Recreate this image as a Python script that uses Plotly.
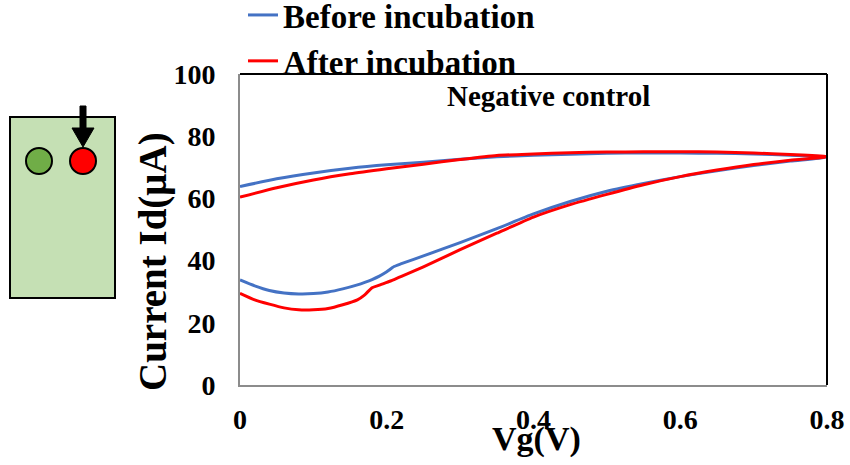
import plotly.graph_objects as go

# ---------------- data ----------------
vg_forward = [0, 0.02, 0.04, 0.06, 0.08, 0.10, 0.12, 0.14, 0.16, 0.17, 0.18, 0.19, 0.20,
              0.21, 0.22, 0.25, 0.30, 0.35, 0.40, 0.45, 0.50, 0.55, 0.60, 0.65, 0.70, 0.75, 0.80]
vg_backward = [0.80, 0.75, 0.70, 0.65, 0.60, 0.55, 0.50, 0.45, 0.40, 0.35, 0.30, 0.25,
               0.20, 0.15, 0.10, 0.05, 0]

before_forward = [33.8, 31.9, 30.4, 29.6, 29.3, 29.4, 29.9, 30.9, 32.2, 33.0, 33.9, 35.0, 36.4,
                  38.1, 39.0, 41.5, 45.8, 50.3, 55.0, 59.0, 62.3, 64.8, 67.0, 68.9, 70.6, 72.0, 73.3]
before_backward = [73.3, 73.9, 74.3, 74.5, 74.6, 74.6, 74.5, 74.2, 73.9, 73.4, 72.6, 71.6,
                   70.8, 69.7, 68.2, 66.3, 63.8]

after_forward = [29.5, 27.4, 26.0, 24.8, 24.2, 24.2, 24.6, 25.8, 27.4, 29.0, 31.3, 32.1, 33.0,
                 33.9, 34.9, 38.0, 43.5, 48.8, 54.0, 58.0, 61.3, 64.4, 67.0, 69.1, 70.9, 72.3, 73.4]
after_backward = [73.4, 74.1, 74.6, 74.9, 75.0, 75.0, 74.9, 74.7, 74.3, 73.8, 72.5, 71.0,
                  69.5, 67.9, 65.9, 63.4, 60.4]

series_names = ["Before incubation", "After incubation"]
series_colors = ["#4472C4", "#FF0000"]
x_ticks = [0, 0.2, 0.4, 0.6, 0.8]
x_tick_text = ["0", "0.2", "0.4", "0.6", "0.8"]
y_ticks = [0, 20, 40, 60, 80, 100]
panel_label = "Negative control"
x_title = "Vg(V)"
y_title = "Current Id(μA)"

# ---------------- layout geometry ----------------
W, H = 850, 465
L, R, T, B = 240, 23, 74, 80
PW, PH = W - L - R, H - T - B


def px(x):  # pixel x -> paper
    return (x - L) / PW


def py(y):  # pixel y -> paper
    return (H - B - y) / PH


FONT = "Liberation Serif, Times New Roman, serif"

fig = go.Figure()
loops = [(before_forward, before_backward), (after_forward, after_backward)]
for (fw, bw), name, color in zip(loops, series_names, series_colors):
    fig.add_trace(go.Scatter(
        x=vg_forward + vg_backward[1:],
        y=fw + bw[1:],
        mode="lines",
        name=name,
        line=dict(color=color, width=3, shape="spline", smoothing=0.6),
    ))

axis_font = dict(family=FONT, size=28, color="black", weight="bold")

fig.update_xaxes(
    range=[0, 0.8], tickvals=x_ticks, ticktext=x_tick_text,
    showgrid=False, zeroline=False, showline=True, linecolor="#8c8c8c", linewidth=2,
    ticks="", tickfont=axis_font, ticklabelstandoff=8,
)
fig.update_yaxes(
    range=[0, 100], tickvals=y_ticks,
    showgrid=False, zeroline=False, showline=True, linecolor="#8c8c8c", linewidth=2,
    ticks="", tickfont=axis_font, ticklabelstandoff=17,
)

shapes = [
    # top and right black frame
    dict(type="line", xref="paper", yref="paper", x0=0, x1=1, y0=1, y1=1,
         line=dict(color="black", width=2)),
    dict(type="line", xref="paper", yref="paper", x0=1, x1=1, y0=0, y1=1,
         line=dict(color="black", width=2)),
    # device illustration
    dict(type="rect", xref="paper", yref="paper", x0=px(10), x1=px(115), y0=py(298), y1=py(117),
         fillcolor="#C5E0B4", line=dict(color="black", width=2), layer="above"),
    dict(type="circle", xref="paper", yref="paper", x0=px(26), x1=px(52), y0=py(174), y1=py(148),
         fillcolor="#70AD47", line=dict(color="black", width=2), layer="above"),
    dict(type="circle", xref="paper", yref="paper", x0=px(70), x1=px(96), y0=py(174), y1=py(148),
         fillcolor="#FF0000", line=dict(color="black", width=2), layer="above"),
    dict(type="path", xref="paper", yref="paper", layer="above",
         path=(f"M {px(80)},{py(106)} L {px(86)},{py(106)} L {px(86)},{py(128)} "
               f"L {px(94)},{py(128)} L {px(83)},{py(147)} L {px(72)},{py(128)} "
               f"L {px(80)},{py(128)} Z"),
         fillcolor="black", line=dict(color="black", width=1)),
]

annotations = [
    dict(text=panel_label, xref="paper", yref="paper", x=px(548), y=py(96),
         xanchor="center", yanchor="middle", showarrow=False,
         font=dict(family=FONT, size=29, color="black", weight="bold")),
    dict(text=x_title, xref="paper", yref="paper", x=px(536), y=py(439),
         xanchor="center", yanchor="middle", showarrow=False,
         font=dict(family=FONT, size=34, color="black", weight="bold")),
    dict(text=y_title, xref="paper", yref="paper", x=px(153), y=py(262), textangle=-90,
         xanchor="center", yanchor="middle", showarrow=False,
         font=dict(family=FONT, size=39, color="black", weight="bold")),
]

fig.update_layout(
    width=W, height=H,
    margin=dict(l=L, r=R, t=T, b=B, autoexpand=False),
    plot_bgcolor="white", paper_bgcolor="white",
    shapes=shapes, annotations=annotations,
    showlegend=True,
    legend=dict(x=px(243), y=py(-13), xanchor="left", yanchor="top",
                font=dict(family=FONT, size=33, color="black", weight="bold"),
                bgcolor="rgba(0,0,0,0)", tracegroupgap=0, itemwidth=30),
)

fig.write_html("out.html", config={"displayModeBar": False},
               post_script="document.body.style.margin='0';")
